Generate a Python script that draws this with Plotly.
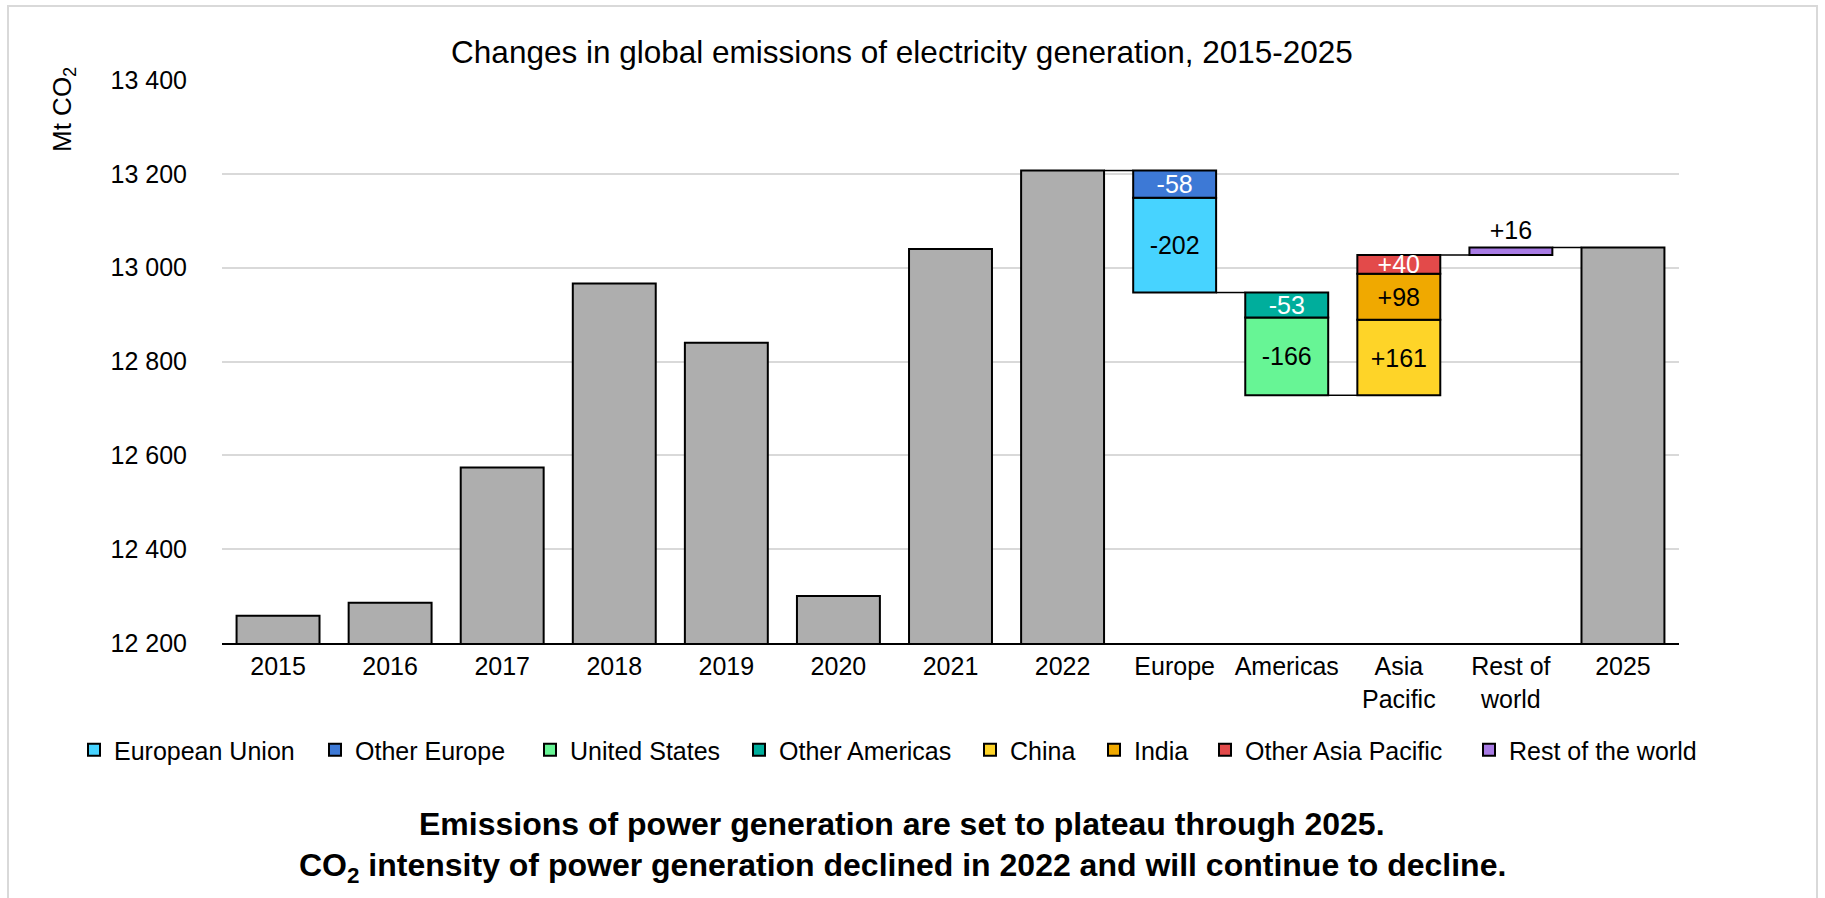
import plotly.graph_objects as go

# ---- data -------------------------------------------------------------
categories = ["2015", "2016", "2017", "2018", "2019", "2020", "2021", "2022",
              "Europe", "Americas", "Asia<br>Pacific", "Rest of<br>world", "2025"]
years = ["2015", "2016", "2017", "2018", "2019", "2020", "2021", "2022"]
year_totals = [12258, 12286, 12574, 12966, 12840, 12300, 13040, 13207]
final_year = "2025"

regions = ["Europe", "Americas", "Asia<br>Pacific", "Rest of<br>world"]
series_names = ["European Union", "Other Europe", "United States", "Other Americas",
                "China", "India", "Other Asia Pacific", "Rest of the world"]
series_region = ["Europe", "Europe", "Americas", "Americas",
                 "Asia<br>Pacific", "Asia<br>Pacific", "Asia<br>Pacific", "Rest of<br>world"]
series_delta = [-202, -58, -166, -53, 161, 98, 40, 16]
series_colors = ["#47D3FF", "#3D79D6", "#67F595", "#00AE9C",
                 "#FED428", "#F0A900", "#E34A4A", "#A87BE4"]
label_colors = ["#000000", "#FFFFFF", "#000000", "#FFFFFF",
                "#000000", "#000000", "#FFFFFF", "#000000"]
# order in which segments are stacked away from the running level
stack_order = {
    "Europe": ["Other Europe", "European Union"],
    "Americas": ["Other Americas", "United States"],
    "Asia<br>Pacific": ["China", "India", "Other Asia Pacific"],
    "Rest of<br>world": ["Rest of the world"],
}

y_tickvals = [12200, 12400, 12600, 12800, 13000, 13200, 13400]
y_ticktext = ["12 200", "12 400", "12 600", "12 800", "13 000", "13 200", "13 400"]

# ---- running totals for the waterfall ---------------------------------
delta_of = dict(zip(series_names, series_delta))
base_of = {}
level = year_totals[-1]
levels = [level]                    # level after 2022, then after each region
for reg in regions:
    for name in stack_order[reg]:
        base_of[name] = level
        level += delta_of[name]
    levels.append(level)
final_total = level

FONT = "Arial, 'Liberation Sans', sans-serif"
BARGAP = 0.26
OUTLINE = dict(color="#000000", width=2)

# page geometry (pixels)
L, R, T, B = 222, 146, 80, 255
W, H = 1825, 898
PW, PH = W - L - R, H - T - B
def px_x(p):
    return (p - L) / PW
def px_y(p):
    return (H - B - p) / PH

# left edge of each legend entry's text, in pixels
legend_text_x = [114, 355, 570, 779, 1010, 1134, 1245, 1509]
LEGEND_TEXT_GAP = 40

fig = go.Figure()

# grey total bars
fig.add_trace(go.Bar(
    x=years + [final_year], y=year_totals + [final_total],
    marker=dict(color="#AEAEAE", line=OUTLINE),
    showlegend=False, hoverinfo="x+y",
))

# regional contribution segments, each with its own legend entry
legends = {}
for k, (name, reg, d, col, lc) in enumerate(zip(series_names, series_region, series_delta,
                                                 series_colors, label_colors)):
    outside = name == "Rest of the world"
    lg = "legend" if k == 0 else f"legend{k + 1}"
    legends[lg] = dict(orientation="h", xref="paper", yref="paper",
                       x=px_x(legend_text_x[k] - LEGEND_TEXT_GAP), xanchor="left",
                       y=px_y(750), yanchor="middle",
                       font=dict(size=25, family=FONT, color="#000000"),
                       bgcolor="rgba(0,0,0,0)", itemclick=False, itemdoubleclick=False)
    fig.add_trace(go.Bar(
        x=[reg], y=[d], base=[base_of[name]], name=name, legend=lg,
        marker=dict(color=col, line=OUTLINE),
        text=[f"{d:+d}"], textposition="outside" if outside else "inside",
        insidetextanchor="middle", textangle=0, constraintext="none",
        textfont=dict(color=lc, size=25, family=FONT),
        cliponaxis=False,
    ))

# connector lines between consecutive waterfall bars
half = (1 - BARGAP) / 2
start_idx = categories.index("2022")
shapes = []
for k, lv in enumerate(levels):
    i = start_idx + k
    shapes.append(dict(type="line", xref="x", yref="y",
                       x0=i + half, x1=i + 1 - half, y0=lv, y1=lv,
                       line=dict(color="#000000", width=1.5), layer="above"))

# outer frame
shapes.append(dict(type="rect", xref="paper", yref="paper",
                   x0=px_x(8), x1=px_x(1817), y0=px_y(905), y1=px_y(6),
                   line=dict(color="#D9D9D9", width=2), layer="below"))

fig.update_layout(
    width=W, height=H,
    margin=dict(l=L, r=R, t=T, b=B, autoexpand=False),
    paper_bgcolor="white", plot_bgcolor="white",
    barmode="overlay", bargap=BARGAP,
    font=dict(family=FONT, color="#000000", size=25),
    uniformtext=dict(minsize=25, mode="show"),
    title=dict(text="Changes in global emissions of electricity generation, 2015-2025",
               x=902 / W, xanchor="center", xref="container",
               y=1 - 52 / H, yanchor="middle", yref="container",
               font=dict(size=31.5, family=FONT, color="#000000")),
    xaxis=dict(type="category", categoryorder="array", categoryarray=categories,
               showline=True, linecolor="#000000", linewidth=2, ticks="",
               showgrid=False, tickfont=dict(size=25), ticklabelstandoff=0),
    yaxis=dict(range=[12200, 13400], tickvals=y_tickvals, ticktext=y_ticktext,
               showgrid=True, gridcolor="#D9D9D9", gridwidth=2,
               zeroline=False, showline=False, ticks="",
               tickfont=dict(size=25), ticklabelstandoff=34),
    shapes=shapes,
    annotations=[
        dict(text="Mt CO<sub>2</sub>", xref="paper", yref="paper",
             x=px_x(63), y=px_y(110), textangle=-90, showarrow=False,
             font=dict(size=26), xanchor="center", yanchor="middle"),
        dict(text="<b>Emissions of power generation are set to plateau through 2025.</b>",
             xref="paper", yref="paper", x=px_x(902), y=px_y(824),
             showarrow=False, font=dict(size=32), xanchor="center", yanchor="middle"),
        dict(text="<b>CO<sub>2</sub> intensity of power generation declined in 2022 and will continue to decline.</b>",
             xref="paper", yref="paper", x=px_x(902), y=px_y(867),
             showarrow=False, font=dict(size=32), xanchor="center", yanchor="middle"),
    ],
)
fig.update_layout(**legends)

fig.write_html("out.html")
